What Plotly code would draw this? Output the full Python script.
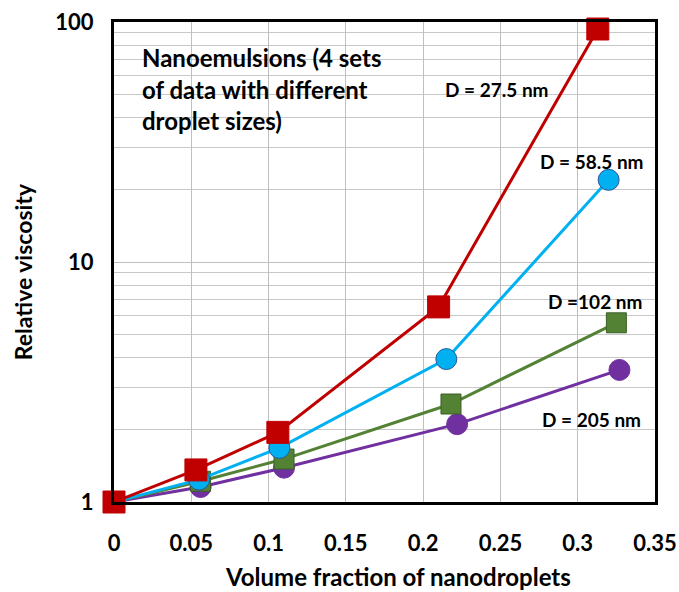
import plotly.graph_objects as go

# ---- data ----
x_275 = [0, 0.053, 0.106, 0.210, 0.313]
y_275 = [1, 1.36, 1.95, 6.5, 93.5]

x_585 = [0, 0.055, 0.107, 0.215, 0.320]
y_585 = [1, 1.24, 1.68, 3.94, 22.0]

x_102 = [0, 0.056, 0.110, 0.218, 0.325]
y_102 = [1, 1.22, 1.51, 2.56, 5.58]

x_205 = [0, 0.056, 0.110, 0.222, 0.327]
y_205 = [1, 1.155, 1.39, 2.11, 3.55]

x_ticks = [0, 0.05, 0.1, 0.15, 0.2, 0.25, 0.3, 0.35]
x_ticklabels = ["0", "0.05", "0.1", "0.15", "0.2", "0.25", "0.3", "0.35"]
y_ticks = [1, 10, 100]
y_ticklabels = ["1", "10", "100"]
y_minor = [2, 3, 4, 5, 6, 7, 8, 9, 20, 30, 40, 50, 60, 70, 80, 90]

note_lines = ["Nanoemulsions (4 sets", "of data with different", "droplet sizes)"]
series_labels = ["D = 27.5 nm", "D = 58.5 nm", "D =102 nm", "D = 205 nm"]

FONT = "Lato"

fig = go.Figure()

def add(xs, ys, color, symbol, size, outline):
    fig.add_trace(go.Scatter(
        x=xs, y=ys, mode="lines+markers", cliponaxis=False,
        line=dict(color=color, width=3),
        marker=dict(symbol=symbol, size=size, color=color,
                    line=dict(color=outline, width=1)),
        showlegend=False, hoverinfo="skip"))

add(x_205, y_205, "#7030A0", "circle", 21, "#7030A0")
add(x_102, y_102, "#548235", "square", 20, "#3B5E25")
add(x_585, y_585, "#00B0F0", "circle", 21, "#2F5597")
add(x_275, y_275, "#C00000", "square", 22, "#C00000")

# note text (log10 positions on the y axis)
for t, ly in zip(note_lines, [1.854, 1.717, 1.588]):
    fig.add_annotation(x=0.017, y=ly, text="<b>%s</b>" % t, showarrow=False,
                       xanchor="left", yanchor="middle",
                       font=dict(family=FONT, size=24, color="black"))

for t, x, ly in zip(series_labels,
                    [0.248, 0.309, 0.311, 0.309],
                    [1.717, 1.417, 0.835, 0.342]):
    fig.add_annotation(x=x, y=ly, text="<b>%s</b>" % t, showarrow=False,
                       xanchor="center", yanchor="middle",
                       font=dict(family=FONT, size=19, color="black"))

# axis titles
fig.add_annotation(xref="paper", yref="paper", x=-0.168, y=0.479,
                   text="<b>Relative viscosity</b>", textangle=-90,
                   showarrow=False, xanchor="center", yanchor="middle",
                   font=dict(family=FONT, size=23, color="black"))
fig.add_annotation(xref="paper", yref="paper", x=0.525, y=-0.156,
                   text="<b>Volume fraction of nanodroplets</b>",
                   showarrow=False, xanchor="center", yanchor="middle",
                   font=dict(family=FONT, size=24, color="black"))

fig.update_layout(
    width=679, height=592,
    margin=dict(l=114, r=24, t=22, b=90, autoexpand=False),
    paper_bgcolor="white", plot_bgcolor="white",
    font=dict(family=FONT, color="black"),
)
fig.update_xaxes(
    range=[0, 0.35], tickvals=x_ticks, ticktext=x_ticklabels,
    showgrid=True, gridcolor="#BFBFBF", gridwidth=1,
    showline=True, linecolor="black", linewidth=3, mirror=True,
    ticks="", ticklabelstandoff=20, automargin=False,
    tickfont=dict(family=FONT, size=22, color="black", weight="bold"),
    zeroline=False,
)
fig.update_yaxes(
    type="log", range=[0, 2], tickvals=y_ticks, ticktext=y_ticklabels,
    showgrid=True, gridcolor="#BFBFBF", gridwidth=1,
    minor=dict(tickvals=y_minor, showgrid=True, gridcolor="#C8C8C8", gridwidth=1),
    showline=True, linecolor="black", linewidth=3, mirror=True,
    ticks="", ticklabelstandoff=13, automargin=False,
    tickfont=dict(family=FONT, size=22, color="black", weight="bold"),
    zeroline=False,
)

fig.write_html("out.html", config={"displayModeBar": False},
               post_script="document.body.style.margin='0';document.body.style.overflow='hidden';")
